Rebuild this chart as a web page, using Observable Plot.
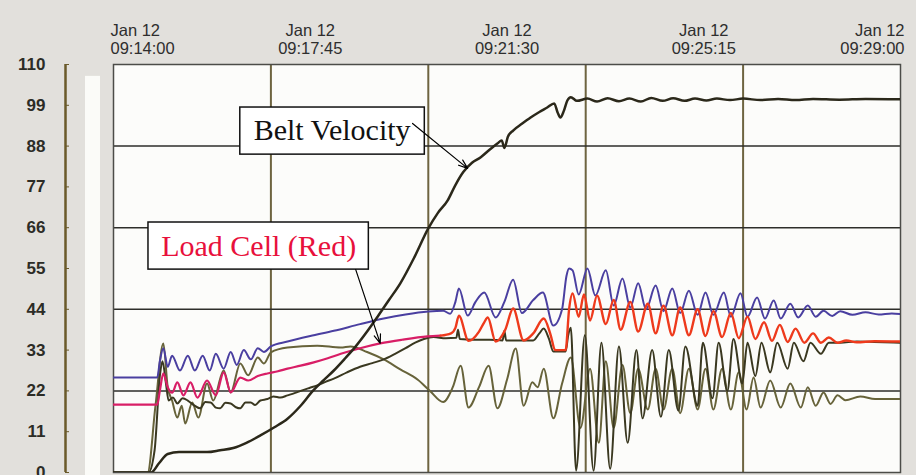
<!DOCTYPE html>
<html><head><meta charset="utf-8">
<script src="https://cdn.jsdelivr.net/npm/d3@7"></script>
<script src="https://cdn.jsdelivr.net/npm/@observablehq/plot@0.6"></script>
<style>
html,body{margin:0;padding:0;background:#e2e0dc;}
#chart svg{display:block}
</style></head><body><div id="chart"></div>
<script>
// ---- data ----
const startTime = "2000-01-12T09:14:00Z";
const spanSeconds = 900;
const xTickDay = "Jan 12";
const xTickLabels = ["09:14:00","09:17:45","09:21:30","09:25:15","09:29:00"];
const xTickOffsets = [0,225,450,675,900];
const xGridOffsets = [180,360,540,720];
const yTicks = [0,11,22,33,44,55,66,77,88,99,110];
const yGrid = [22,44,66,88];
const annotationLabels = ["Belt Velocity","Load Cell (Red)"];

// [seconds after 09:14:00, value]
const beltVelocity = [[0,0],[40,0],[43,0],[52,2.5],[62,5],[75,5.5],[107,5.5],[122,6],[137,6.6],[152,8],[168,10],[184,12.2],[199,14.5],[214,18],[228,22],[240,24.8],[252,27.5],[265,30.8],[277,34],[290,38],[302,42],[315,46.5],[328,51],[344,58],[360,65.8],[371,70],[382,73.3],[391,77.5],[400,81],[410,83.5],[420,85],[430,87],[439,88.7],[444,89.5],[447,87.5],[451,90.5],[457,92.2],[467,94],[477,95.7],[487,97.2],[496,98.4],[504,99.5],[508,97],[511,95.7],[515,97.5],[519,100.3],[523,101.2],[530,100.2],[542,100.8],[553,100],[565,100.9],[578,100.1],[590,100.8],[603,100],[615,101],[628,100.2],[640,100.9],[653,100.2],[665,100.8],[678,100.3],[690,100.8],[705,100.4],[720,100.8],[740,100.4],[760,100.7],[780,100.4],[800,100.7],[830,100.5],[860,100.7],[900,100.6]];

const blueTrace = [[0,25.6],[50,25.6],[53,30],[57,33.5],[62,28.5],[67,31.5],[76,27.5],[85,31.5],[93,27.5],[102,31.5],[110,27.5],[117,32],[126,28],[134,32.5],[141,29],[149,33],[157,30.5],[165,33.5],[172,32.5],[180,34],[199,35.3],[225,36.8],[252,38.2],[282,40],[309,41.5],[334,42.6],[360,43.4],[377,43.6],[385,42.8],[391,46],[395,49.6],[405,42.3],[414,46],[424,48.5],[437,41.8],[447,46],[457,52],[467,43],[480,46.5],[491,48.5],[503,39.6],[513,44],[518,53],[521,55],[525,54.5],[532,48],[542,55],[551,47.7],[563,54.5],[572,45],[582,52.3],[591,44.5],[600,51],[609,44],[620,50.4],[629,43.5],[639,49.6],[648,43],[658,49],[668,42.5],[677,48.5],[686,42.5],[698,48.5],[706,42],[717,48.3],[725,42],[736,47.2],[745,41.5],[755,46.4],[763,41.5],[774,45.5],[783,41.8],[794,45],[803,42],[812,43.6],[822,42.2],[831,43.5],[845,42.5],[860,43.2],[875,42.6],[890,42.9],[900,42.7]];

const loadCellRed = [[0,18.3],[50,18.3],[53,22],[57,26.7],[62,23],[67,21.5],[73,24.3],[80,20.8],[88,24.3],[96,20.2],[107,24.8],[117,20.8],[126,27],[134,21.6],[145,25.6],[154,24.8],[165,26],[176,26.7],[188,27.3],[199,28],[214,28.8],[229,29.7],[245,30.8],[260,32],[282,33.5],[305,34.8],[330,35.8],[359,36.7],[374,36.9],[386,37.5],[391,39],[395,42.3],[406,35.5],[418,38],[424,40.5],[428,41.8],[437,35.3],[448,38.5],[457,44.2],[469,35.6],[480,37.5],[492,41.5],[500,37],[505,33],[517,33],[521,44],[525,48.3],[532,42],[538,48],[545,41],[553,47.7],[563,40],[572,46.5],[580,38.5],[591,46],[600,38],[611,45.5],[620,37.5],[629,45],[639,37],[648,44.5],[658,37],[668,44],[677,36.8],[686,43.5],[696,36.5],[706,43],[715,36.2],[725,42],[734,36],[744,40.5],[753,35.5],[762,39.8],[771,35.2],[780,38.8],[790,35],[800,37.5],[809,35],[818,36.4],[828,35],[838,35.6],[850,35.1],[870,35.4],[900,35.3]];

const blackTrace = [[0,0],[40,0],[47,6],[53,26],[56,30],[60,24],[63,19.4],[68,20.2],[73,18.6],[79,20],[85,19.4],[91,18.3],[99,17.3],[105,19],[111,18.9],[117,17.5],[122,17.3],[128,18.8],[134,18.6],[140,17.6],[145,17.3],[151,18.9],[157,18.9],[162,18.2],[168,19.4],[176,19.8],[183,20.5],[191,20.2],[199,20.8],[207,21.4],[214,22],[224,22.8],[233,23.5],[243,24.5],[252,25.3],[267,27],[282,28.5],[296,29.5],[309,30.5],[322,32],[334,33.5],[345,35],[355,36],[366,36.5],[380,36.2],[392,36.3],[394,38.5],[396,36],[412,35.8],[430,35.8],[445,35.6],[447,38.2],[449,35.6],[465,35.6],[480,35.6],[487,37.5],[492,38.8],[498,36],[503,32.6],[517,32.6],[520,37],[523,39],[529,0.5],[539,37],[549,0.5],[558,35],[568,1],[578,34],[588,8],[598,33],[605,14.6],[616,33],[626,15],[635,33],[646,16.7],[654,34],[668,18],[674,35],[685,20],[692,35],[702,22],[709,36],[719,24],[725,35],[734,26],[741,35],[751,27],[759,35],[771,28],[778,35],[789,30],[797,35],[809,32],[818,35],[831,35],[850,35.3],[870,35.2],[900,35]];

const oliveTrace = [[0,0],[39,0],[48,18],[57,34.8],[62,23],[67,19.4],[73,14.8],[78,18],[82,13.2],[90,18.9],[97,14.8],[107,24],[114,19.4],[126,27.5],[134,21.6],[145,29.4],[154,26.2],[165,31],[172,29.4],[180,32.4],[199,33.7],[233,34.2],[260,33.7],[271,34],[290,32.5],[309,30.5],[328,27.8],[348,25],[362,22],[377,19],[388,23],[397,28.8],[406,17.5],[418,23],[429,28.8],[439,17.3],[450,25],[460,33.4],[469,18],[479,24.3],[485,23],[492,28],[503,14.6],[513,24],[523,31],[534,12],[545,28],[555,8],[563,30],[572,12],[582,29],[591,16],[600,28],[611,17],[620,28],[629,17],[639,28],[648,16],[658,28],[668,17],[677,28],[686,17],[696,28],[706,17],[715,27],[724,17],[732,25.6],[740,17.5],[751,24.8],[763,17.5],[774,24],[786,17.5],[794,23],[803,18],[812,21.6],[820,18.5],[828,20.8],[837,19.5],[854,20.5],[871,19.8],[900,19.8]];

// ---- helpers / layout ----
const t0 = new Date(startTime).getTime();
const toDate = s => new Date(t0 + s * 1000);
const rows = arr => arr.map(([s, v]) => ({time: toDate(s), value: v}));
const redSplit = 374;
const redPink = rows(loadCellRed.filter(d => d[0] <= redSplit));
const redOrange = rows(loadCellRed.filter(d => d[0] >= redSplit));

const xLabelRows = xTickLabels.map((lab, i) => ({time: toDate(xTickOffsets[i]), text: xTickDay + "\n" + lab}));
const boxLayout = [
  {s1:145, s2:356, v1:85.7, v2:98.4, ts:250, tv:92.2, color:"#111111", a1:[342,94.1], a2:[405,82]},
  {s1:40, s2:292, v1:54.7, v2:67.4, ts:166, tv:61.0, color:"#e8103c", a1:[277,54.7], a2:[305,34.8]}
];
const boxes = boxLayout.map((b, i) => ({
  x1: toDate(b.s1), x2: toDate(b.s2), y1: b.v1, y2: b.v2,
  tx: toDate(b.ts), ty: b.tv, label: annotationLabels[i], color: b.color,
  ax1: toDate(b.a1[0]), ay1: b.a1[1], ax2: toDate(b.a2[0]), ay2: b.a2[1]
}));

const lineOpts = (stroke, w) => ({x: "time", y: "value", stroke, strokeWidth: w, strokeLinejoin: "round", curve: "monotone-x", clip: true});

const chart = Plot.plot({
  width: 916, height: 475,
  marginLeft: 113, marginRight: 16, marginTop: 64, marginBottom: 3,
  x: {type: "utc", domain: [toDate(0), toDate(spanSeconds)], axis: null},
  y: {domain: [0, 110], axis: null},
  style: {background: "#e2e0dc", fontFamily: "'Liberation Sans', Arial, sans-serif", overflow: "visible"},
  marks: [
    Plot.frame({fill: "#fcfcfa", stroke: null}),
    Plot.rect([{t: toDate(0)}], {x1: "t", x2: "t", y1: () => 0, y2: () => 106.8, insetLeft: -28, insetRight: 13, insetBottom: -3, fill: "#fbfbf8"}),
    Plot.ruleX(xGridOffsets.map(toDate), {stroke: "#6e6440", strokeWidth: 2}),
    Plot.ruleY(yGrid, {stroke: "#2e2e2a", strokeWidth: 1.5}),
    Plot.frame({stroke: "#4c4c48", strokeWidth: 1.5}),
    Plot.ruleX([toDate(0)], {y1: 0, y2: 110, dx: -48, stroke: "#6a5a2a", strokeWidth: 2.5}),
    Plot.axisY(yTicks, {anchor: "left", dx: -44, tickSize: 4, tickPadding: 20, stroke: "#6a5a2a", fill: "#2c2c26", fontSize: 17, fontWeight: "bold", label: null}),
    Plot.text(xLabelRows.slice(0, 1), {x: "time", y: () => 110, text: "text", textAnchor: "start", dx: -3, dy: -25, fontSize: 16.5, lineHeight: 1.05, fill: "#2e2e2e"}),
    Plot.text(xLabelRows.slice(1, -1), {x: "time", y: () => 110, text: "text", textAnchor: "middle", dy: -25, fontSize: 16.5, lineHeight: 1.05, fill: "#2e2e2e"}),
    Plot.text(xLabelRows.slice(-1), {x: "time", y: () => 110, text: "text", textAnchor: "end", dx: 4, dy: -25, fontSize: 16.5, lineHeight: 1.05, fill: "#2e2e2e"}),
    Plot.line(rows(oliveTrace), lineOpts("#67633a", 2)),
    Plot.line(rows(blackTrace), lineOpts("#3a3820", 2)),
    Plot.line(rows(blueTrace), lineOpts("#4a3fa0", 2)),
    Plot.line(redPink, lineOpts("#d81e66", 2.2)),
    Plot.line(redOrange, lineOpts("#ee3a1c", 2.4)),
    Plot.line(rows(beltVelocity), lineOpts("#2b281a", 2.5)),
    Plot.rect(boxes, {x1: "x1", x2: "x2", y1: "y1", y2: "y2", fill: "white", stroke: "#111", strokeWidth: 1.5}),
    Plot.text(boxes, {x: "tx", y: "ty", text: "label", fill: "color", fontSize: 30, fontFamily: "'Liberation Serif', 'Times New Roman', serif"}),
    Plot.arrow(boxes, {x1: "ax1", y1: "ay1", x2: "ax2", y2: "ay2", stroke: "#000", strokeWidth: 1.2, headLength: 12, headAngle: 40})
  ]
});
document.getElementById("chart").appendChild(chart);
</script>
</body></html>
